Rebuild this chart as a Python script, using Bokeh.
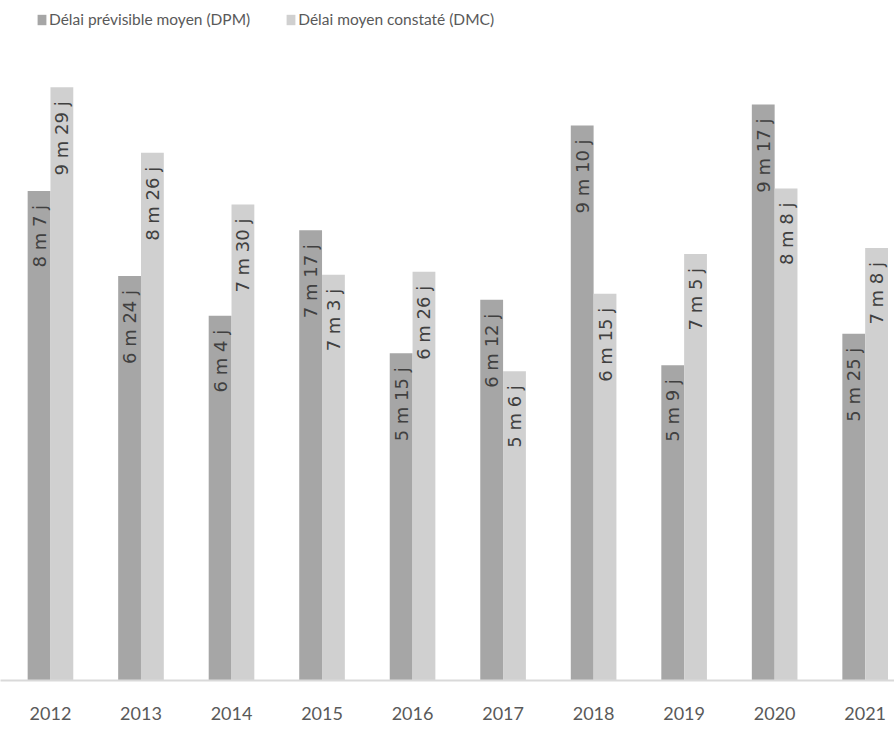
import numpy as np
from bokeh.plotting import figure
from bokeh.models import ColumnDataSource, FixedTicker, Legend, LegendItem, Range1d
from bokeh.core.properties import value
from bokeh.embed import file_html
from bokeh.resources import INLINE

# ---- data (months) ----
years = ["2012", "2013", "2014", "2015", "2016", "2017", "2018", "2019", "2020", "2021"]
dpm_months = [8.23, 6.80, 6.13, 7.57, 5.50, 6.40, 9.33, 5.30, 9.68, 5.83]
dmc_months = [9.97, 8.87, 8.00, 6.82, 6.87, 5.20, 6.50, 7.17, 8.27, 7.27]
dpm_labels = ["8 m 7 j", "6 m 24 j", "6 m 4 j", "7 m 17 j", "5 m 15 j",
              "6 m 12 j", "9 m 10 j", "5 m 9 j", "9 m 17 j", "5 m 25 j"]
dmc_labels = ["9 m 29 j", "8 m 26 j", "7 m 30 j", "7 m 3 j", "6 m 26 j",
              "5 m 6 j", "6 m 15 j", "7 m 5 j", "8 m 8 j", "7 m 8 j"]
series_names = ["Délai prévisible moyen (DPM)", "Délai moyen constaté (DMC)"]

# ---- layout / style ----
C_DPM = "#a6a6a6"
C_DMC = "#d0d0d0"
TXT = "#404040"
AX_TXT = "#595959"

W, H = 894, 734
FRAME_H = 680
Y_END = 11.43
PX_PER_UNIT = FRAME_H / Y_END
BAR_W = 0.252
LABEL_GAP = 14 / PX_PER_UNIT

x = np.arange(len(years))
src = ColumnDataSource(dict(
    x_dpm=x - BAR_W / 2, x_dmc=x + BAR_W / 2,
    dpm=dpm_months, dmc=dmc_months,
    dpm_y=np.array(dpm_months) - LABEL_GAP, dmc_y=np.array(dmc_months) - LABEL_GAP,
    dpm_lab=dpm_labels, dmc_lab=dmc_labels,
))

p = figure(width=W, height=H, output_backend="svg", toolbar_location=None,
           x_range=Range1d(-0.552, 9.324), y_range=Range1d(0, Y_END),
           y_axis_type=None, min_border_left=0, min_border_right=0,
           min_border_top=0, min_border_bottom=H - FRAME_H)
p.outline_line_color = None
p.xgrid.visible = False
p.ygrid.visible = False
p.background_fill_color = "white"
p.border_fill_color = "white"

r1 = p.vbar(x="x_dpm", top="dpm", width=BAR_W, source=src,
            fill_color=C_DPM, line_color=None)
r2 = p.vbar(x="x_dmc", top="dmc", width=BAR_W, source=src,
            fill_color=C_DMC, line_color=None)

for xc, yc, lab in (("x_dpm", "dpm_y", "dpm_lab"), ("x_dmc", "dmc_y", "dmc_lab")):
    p.text(x=xc, y=yc, text=lab, source=src, angle=np.pi / 2,
           text_align="right", text_baseline="middle",
           text_font=value("DejaVu Sans"), text_font_size="18px",
           text_color=TXT)

ax = p.xaxis[0]
ax.ticker = FixedTicker(ticks=list(x))
ax.major_label_overrides = {int(i): y for i, y in zip(x, years)}
ax.major_tick_line_color = None
ax.minor_tick_line_color = None
ax.axis_line_color = "#d9d9d9"
ax.axis_line_width = 2
ax.major_label_text_font = "Lato"
ax.major_label_text_font_size = "18px"
ax.major_label_text_color = AX_TXT
ax.major_label_standoff = 20

legend = Legend(items=[LegendItem(label=series_names[0], renderers=[r1]),
                       LegendItem(label=series_names[1], renderers=[r2])],
                orientation="horizontal", location=(36, FRAME_H - 28),
                padding=0, margin=0, spacing=35,
                glyph_width=11, glyph_height=13, label_height=13,
                label_standoff=2, label_text_font="Lato",
                label_text_font_size="15.5px", label_text_color=AX_TXT,
                border_line_color=None, background_fill_alpha=0)
p.add_layout(legend)

open("out.html", "w").write(file_html(p, INLINE))
